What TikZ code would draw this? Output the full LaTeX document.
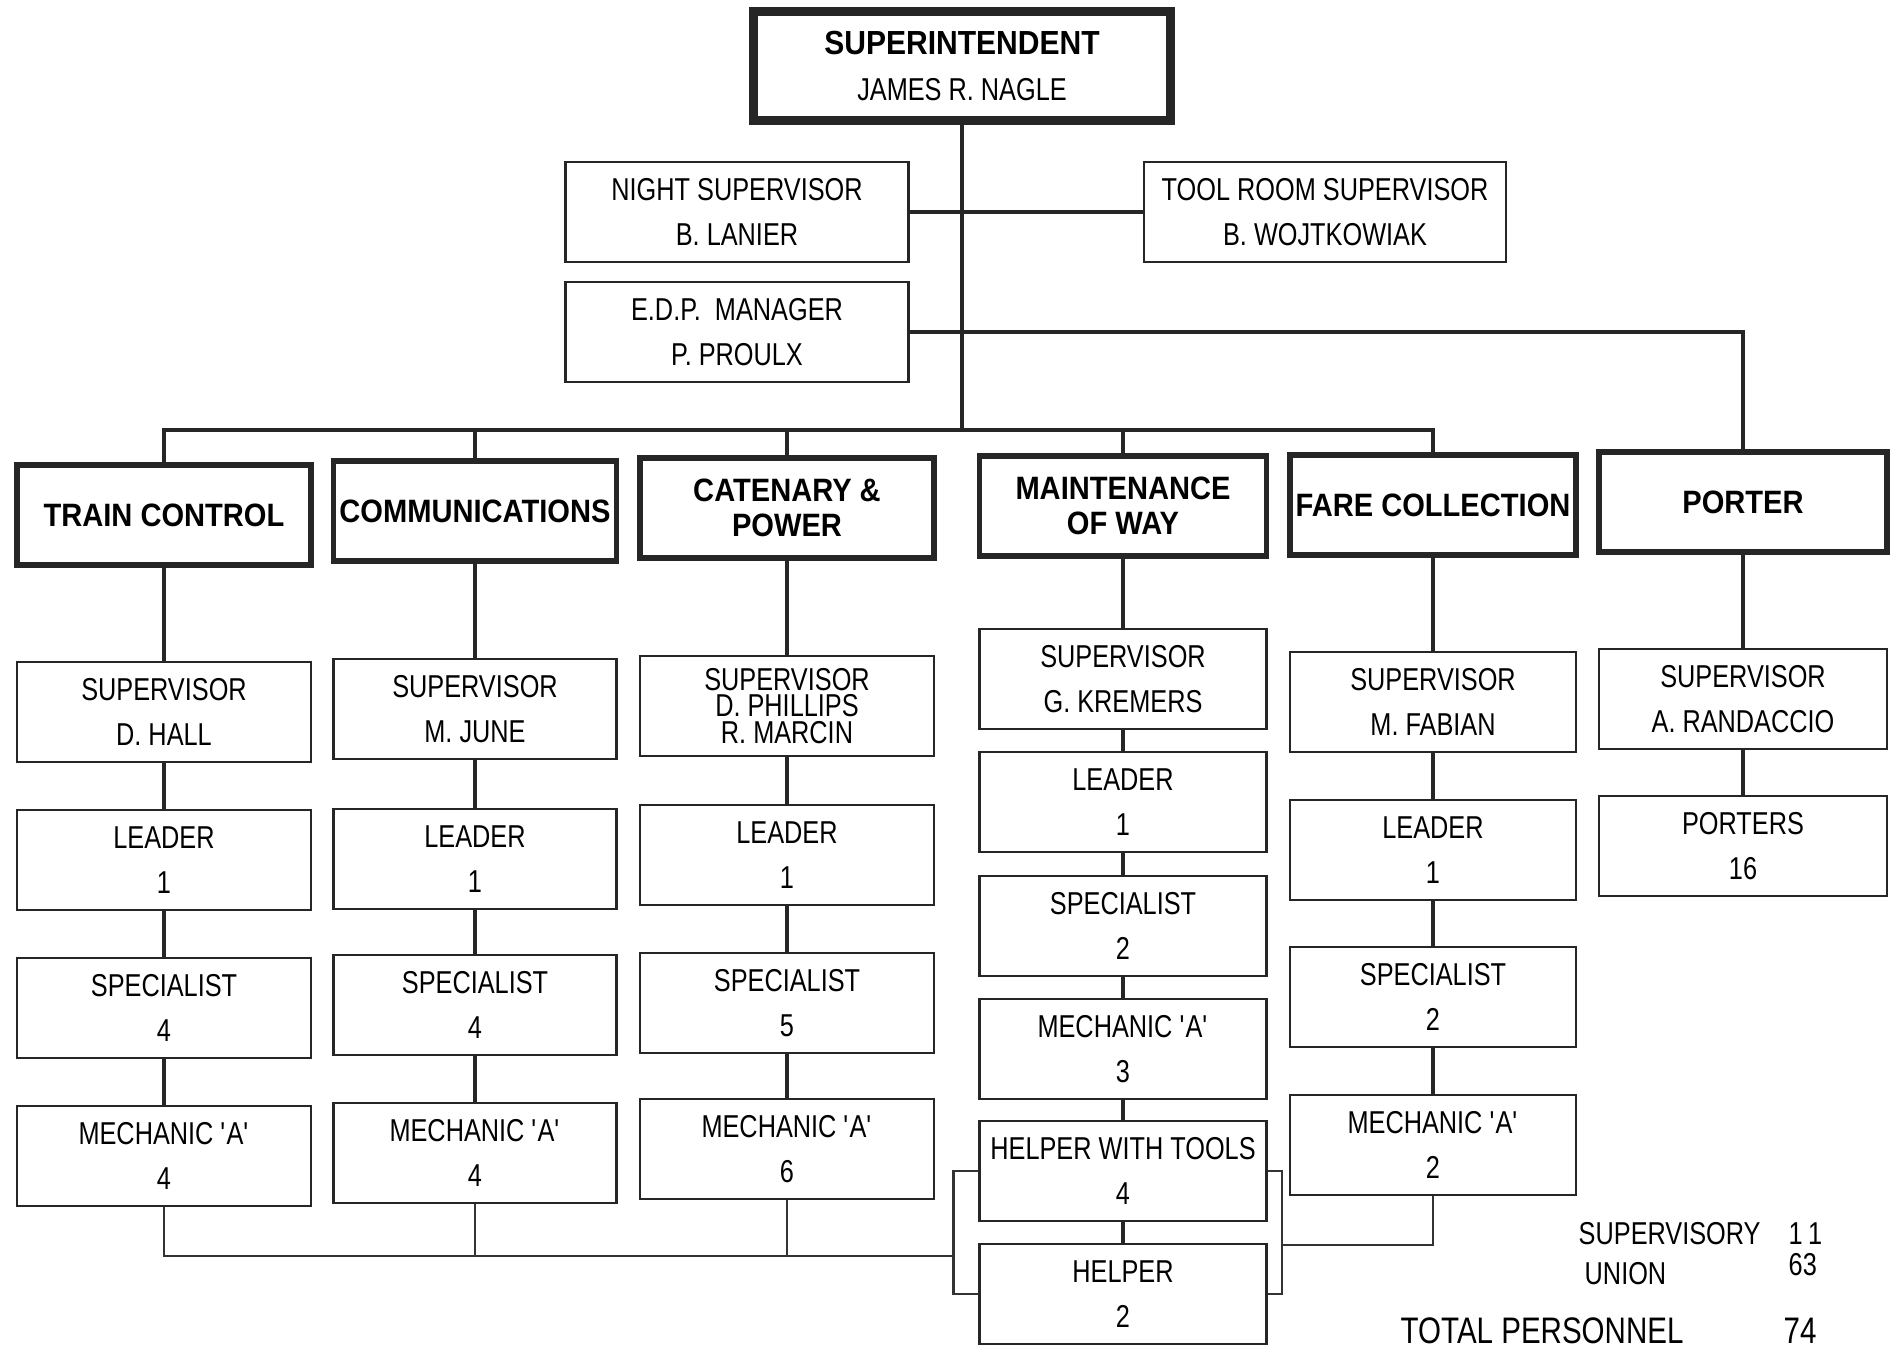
\documentclass[tikz,border=0pt]{standalone}
\usepackage{fontspec}
\setmainfont{Liberation Sans}[FakeStretch=0.8]
\newfontfamily\deptfont{Liberation Sans}[FakeStretch=0.9]
\usepackage{tikz}

\newcommand{\mechA}{MECHANIC \textquotesingle A\textquotesingle}

\begin{document}
\begin{tikzpicture}[x=0.1mm,y=-0.1mm,
    box/.style={draw=black!85, line width=0.7pt, minimum width=#1, minimum height=10mm,
      inner sep=0pt, align=center, font=\fontsize{9}{13}\selectfont},
    dept/.style={draw=black!85, line width=1.5pt, minimum width=#1, minimum height=10mm,
      inner sep=0pt, align=center, font=\deptfont\bfseries\fontsize{9.2}{10}\selectfont},
    conn/.style={draw=black!85, line width=1.3pt},
    feed/.style={draw=black!80, line width=0.7pt},
    tally/.style={anchor=west, inner sep=0pt, font=\fontsize{9}{11}\selectfont}]
    \useasboundingbox (0,0) rectangle (1892,1348);
    % head office
    \node[box=41.7mm, minimum height=10.9mm, line width=2.5pt] (supt) at (962,66)
      {{\deptfont\bfseries\fontsize{9.5}{13}\selectfont SUPERINTENDENT}\\JAMES R. NAGLE};
    \node[box=34.3mm] (night) at (737,212) {NIGHT SUPERVISOR\\B. LANIER};
    \node[box=36.2mm] (tool) at (1325,212) {TOOL ROOM SUPERVISOR\\B. WOJTKOWIAK};
    \node[box=34.3mm] (edp) at (737,332) {E.D.P.\ \ MANAGER\\P. PROULX};
    % departments
    \node[dept=29.4mm] (tc) at (164,515) {TRAIN CONTROL};
    \node[dept=28.3mm] (cm) at (475,511) {COMMUNICATIONS};
    \node[dept=29.4mm] (cp) at (787,508) {CATENARY \&\\POWER};
    \node[dept=28.7mm] (mw) at (1123,506) {MAINTENANCE\\OF WAY};
    \node[dept=28.6mm] (fc) at (1433,505) {FARE COLLECTION};
    \node[dept=28.8mm] (po) at (1743,502) {PORTER};
    % staff of each department
    \foreach \n/\y/\t in {1/712/{SUPERVISOR\\D. HALL}, 2/860/{LEADER\\1},
        3/1008/{SPECIALIST\\4}, 4/1156/{\mechA\\4}}
      \node[box=29.4mm] (tc\n) at (164,\y) {\t};
    \foreach \n/\y/\t in {1/709/{SUPERVISOR\\M. JUNE}, 2/859/{LEADER\\1},
        3/1005/{SPECIALIST\\4}, 4/1153/{\mechA\\4}}
      \node[box=28.3mm] (cm\n) at (475,\y) {\t};
    \node[box=29.4mm, font=\fontsize{9}{7.6}\selectfont] (cp1) at (787,706)
      {SUPERVISOR\\D. PHILLIPS\\R. MARCIN};
    \foreach \n/\y/\t in {2/855/{LEADER\\1}, 3/1003/{SPECIALIST\\5}, 4/1149/{\mechA\\6}}
      \node[box=29.4mm] (cp\n) at (787,\y) {\t};
    \foreach \n/\y/\t in {1/679/{SUPERVISOR\\G. KREMERS}, 2/802/{LEADER\\1},
        3/926/{SPECIALIST\\2}, 4/1049/{\mechA\\3}, 5/1171/{HELPER WITH TOOLS\\4},
        6/1294/{HELPER\\2}}
      \node[box=28.7mm] (mw\n) at (1123,\y) {\t};
    \foreach \n/\y/\t in {1/702/{SUPERVISOR\\M. FABIAN}, 2/850/{LEADER\\1},
        3/997/{SPECIALIST\\2}, 4/1145/{\mechA\\2}}
      \node[box=28.6mm] (fc\n) at (1433,\y) {\t};
    \foreach \n/\y/\t in {1/699/{SUPERVISOR\\A. RANDACCIO}, 2/846/{PORTERS\\16}}
      \node[box=28.8mm] (po\n) at (1743,\y) {\t};
    % reporting lines
    \coordinate (hub) at (962,430);
    \draw[conn] (supt) -- (hub);
    \draw[conn] (night) -- (tool);
    \draw[conn] (edp) -| (po);
    \draw[conn] (tc) |- (hub) -| (fc);
    \foreach \d in {cm,cp,mw} \draw[conn] (\d) -- (\d |- hub);
    \foreach \a/\b in {tc/tc1,tc1/tc2,tc2/tc3,tc3/tc4, cm/cm1,cm1/cm2,cm2/cm3,cm3/cm4,
        cp/cp1,cp1/cp2,cp2/cp3,cp3/cp4, mw/mw1,mw1/mw2,mw2/mw3,mw3/mw4,mw4/mw5,mw5/mw6,
        fc/fc1,fc1/fc2,fc2/fc3,fc3/fc4, po/po1,po1/po2}
      \draw[conn] (\a) -- (\b);
    % helpers shared by the mechanics
    \coordinate (lb) at (955,1256);
    \coordinate (rb) at (1281,1245);
    \draw[feed] (mw5.west) -- ++(-25,0) |- (mw6.west);
    \draw[feed] (mw5.east) -- ++(14,0) |- (mw6.east);
    \draw[feed] (tc4.south) |- (lb);
    \draw[feed] (cm4.south) -- (cm4.south |- lb);
    \draw[feed] (cp4.south) -- (cp4.south |- lb);
    \draw[feed] (fc4.south) |- (rb);
    % totals
    \node[tally] (sv) at (1578,1234) {SUPERVISORY};
    \node[tally] (svn) at (1788,1234) {1\,1};
    \node[tally] (un) at (1584,1274) {UNION};
    \node[tally] (unn) at (1788,1265) {63};
    \node[tally, anchor=base west, font=\fontsize{10.5}{13}\selectfont] (tp) at (1400,1343)
      {TOTAL PERSONNEL};
    \node[tally, anchor=base west, font=\fontsize{10.5}{13}\selectfont] (tpn) at (1783,1343) {74};
  \end{tikzpicture}
\end{document}
